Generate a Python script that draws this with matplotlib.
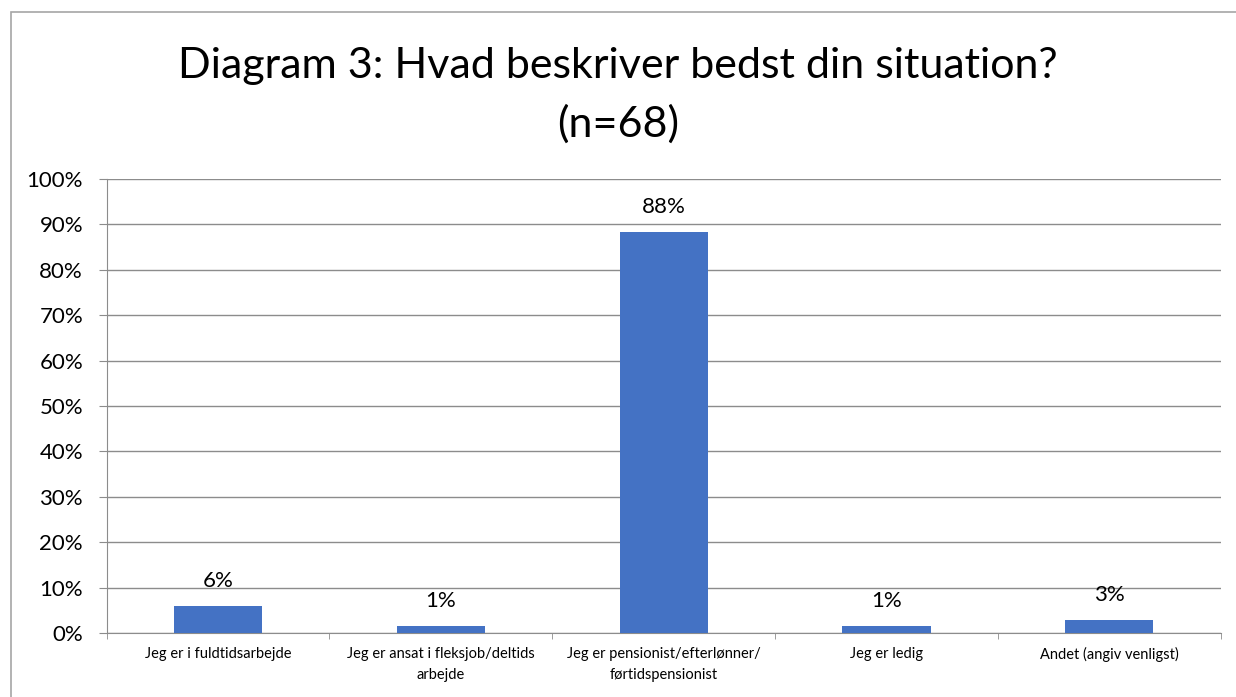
import matplotlib.pyplot as plt
from matplotlib.patches import Rectangle

categories = ['Jeg er i fuldtidsarbejde',
              'Jeg er ansat i fleksjob/deltids\narbejde',
              'Jeg er pensionist/efterlønner/\nførtidspensionist',
              'Jeg er ledig',
              'Andet (angiv venligst)']
counts = [4, 1, 60, 1, 2]
n_total = 68
shares = [c / n_total * 100 for c in counts]
yticks = [0, 10, 20, 30, 40, 50, 60, 70, 80, 90, 100]

plt.rcParams['font.family'] = ['Lato', 'DejaVu Sans']
grey = '#8C8C8C'

fig = plt.figure(figsize=(12.36, 6.97), dpi=100)
ax = fig.add_axes([0.0863, 0.0918, 0.9013, 0.6514])

x = range(len(categories))
ax.bar(x, shares, width=0.396, color='#4472C4', zorder=3)

for i, v in enumerate(shares):
    ax.annotate(f"{v:.0f}%", (i, v), xytext=(0, 18), textcoords='offset points',
                ha='center', va='center', fontsize=16)

ax.set_xlim(-0.5, len(categories) - 0.5)
ax.set_ylim(0, 100)
ax.set_yticks(yticks)
ax.set_yticklabels([f"{t}%" for t in yticks], fontsize=16)
ax.yaxis.grid(True, color=grey, linewidth=1, zorder=0)
ax.tick_params(axis='y', length=6, color=grey, pad=11)

ax.set_xticks([i + 0.5 for i in range(len(categories) - 1)] + [-0.5, len(categories) - 0.5], minor=True)
ax.set_xticks(list(x))
ax.set_xticklabels(categories, fontsize=10.5, linespacing=1.6)
ax.tick_params(axis='x', which='major', length=0, pad=10)
ax.tick_params(axis='x', which='minor', length=4.5, color=grey)

for side in ['top', 'right']:
    ax.spines[side].set_visible(False)
ax.spines['bottom'].set_color(grey)
ax.spines['left'].set_color(grey)

fig.text(0.5, 0.888, 'Diagram 3: Hvad beskriver bedst din situation?',
         ha='center', va='baseline', fontsize=31)
fig.text(0.5, 0.8034, '(n=68)', ha='center', va='baseline', fontsize=31)

fig.add_artist(Rectangle((0.0089, -0.02), 1.0, 1.0028, transform=fig.transFigure,
                         fill=False, edgecolor='#A6A6A6', linewidth=1.2))

fig.savefig('out.png', dpi=100)
